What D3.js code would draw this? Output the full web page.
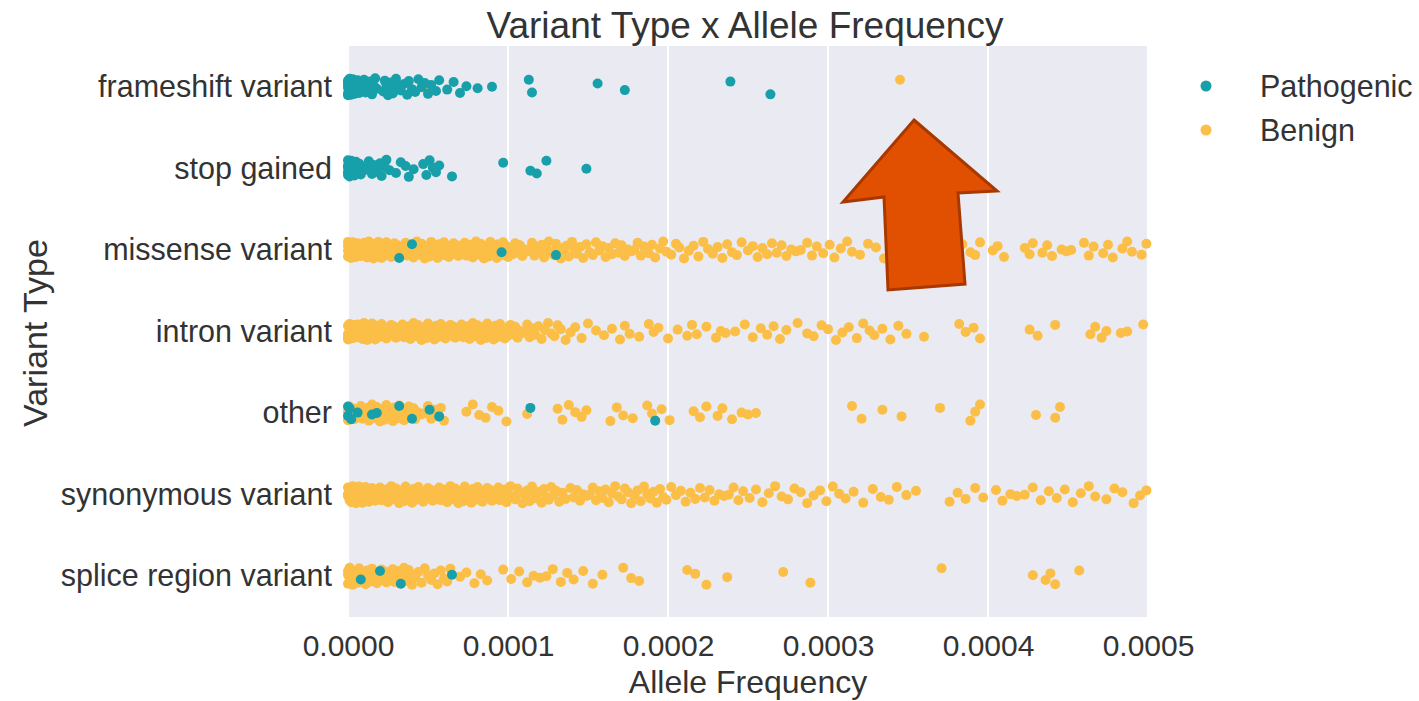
<!DOCTYPE html>
<html>
<head>
<meta charset="utf-8">
<script src="https://cdn.jsdelivr.net/npm/d3@7"></script>
<style>
  body { margin: 0; background: #fff; }
  text { font-family: "Liberation Sans", Arial, sans-serif; fill: #333; }
</style>
</head>
<body>
<svg id="chart" width="1419" height="701"></svg>
<script>
// categories (top to bottom)
var categories = ["frameshift variant", "stop gained", "missense variant", "intron variant",
                  "other", "synonymous variant", "splice region variant"];
var hues = ["Pathogenic", "Benign"];
var xTicks = [0, 0.0001, 0.0002, 0.0003, 0.0004, 0.0005];

// allele frequencies, in units of 1e-6
var frameshiftPath = [0,0,0,0,0,0,1,1,1,1,2,2,2,3,3,3,4,4,5,5,6,6,7,7,8,8,9,10,11,12,13,14,15,16,17,18,22,23,24,25,26,27,28,30,31,33,35,37,38,40,42,44,46,48,50,52,55,57,62,66,70,74,81,90,113,115,156,173,239,264];
var frameshiftBen = [49, 345];

var stopPath = [0,0,0,0,0,1,1,1,2,2,3,3,4,4,5,5,6,7,8,9,11,12,13,15,16,18,20,21,23,24,26,30,33,36,38,41,47,49,51,53,55,57,65,97,114,118,124,149];
var stopBen = [];

var missensePath = [32, 40, 96, 130];
var missenseBen = [0,0,0,0,1,1,1,2,2,2,3,3,4,4,5,5,6,6,7,7,8,8,9,9,10,10,11,11,12,12,13,13,14,14,15,15,16,17,17,18,19,19,20,21,21,22,23,24,24,25,26,27,28,28,29,30,31,32,33,34,35,36,37,38,39,40,41,42,43,44,45,46,47,48,49,50,51,52,53,54,55,56,57,58,59,60,61,62,63,64,65,66,67,68,69,70,71,72,73,74,75,76,77,78,79,80,81,82,83,84,85,86,87,88,89,90,91,92,93,94,95,96,97,98,99,100,
  101.5,103,104.5,106,107.5,109,110.5,112,113.5,115,116.5,118,119.5,121,122.5,124,125.5,127,128.5,130,131.5,133,135,136.5,138,140,141.5,143,145,147,149,151,153,155,157,159,161,163,165,167,169,171,173,175,177,179,181,183,185,188,190,192,195,197,199,202,205,207,210,213,216,219,222,225,228,231,234,237,240,243,246,
  250,253,256,259,262,265,268,271,274,277,280,283,287,290,293,297,301,304,308,312,315,320,325,330,335,340,346,352,358,364,370,376,381,384,389,392,395,403,406,410,423,426,428,434,437,440,446,449,452,460,463,466,472,475,478,484,487,490,496,499];

var intronPath = [];
var intronBen = [0,0,0,0,1,1,1,2,2,2,3,3,4,4,5,5,6,6,7,7,8,8,9,9,10,10,11,11,12,12,13,13,14,15,15,16,17,17,18,19,20,21,22,23,24,25,26,27,28,29,30,31,32,33,34,35,36,37,38,39,40,41,42,43,44,45,46,47,48,49,50,51,52,53,54,55,56,57,58,59,60,61,62,63,64,65,66,67,68,69,70,71,72,73,74,75,76,77,78,79,80,81,82,83,84,85,86,87,88,89,90,91,92,93,94,95,96,97,98,99,100,
  101.5,103,104.5,106,107.5,109,110.5,112,113.5,115,117,119,121,123,125,127,129,131,133,136,139,142,
  146,150,155,160,165,170,173,176,182,188,191,194,200,206,212,215,218,224,230,233,236,242,248,253,258,262,266,270,274,281,287,291,296,300,305,309,313,318,322,326,329,334,339,344,349,360,382,386,391,395,426,431,442,464,467,471,474,483,487,497];

var otherPath = [0,0,1,2,6,15,18,32,40,51,57,114,192];
var otherBen = [0,0,1,1,2,3,4,5,6,7,8,9,10,11,12,13,14,15,16,17,18,19,20,21,22,23,24,25,26,27,28,29,30,31,32,33,34,35,36,37,38,40,41,42,44,46,48,50,52,54,56,58,60,
  74,78,82,86,90,94,99,112,131,134,138,142,146,149,164,168,172,178,187,190,196,201,216,220,224,231,234,240,246,250,255,315,321,334,346,370,389,392,395,430,442,445];

var synPath = [];
var synBen = [0,0,0,0,1,1,1,2,2,2,3,3,4,4,5,5,6,6,7,7,8,8,9,9,10,10,11,11,12,12,13,13,14,15,15,16,17,17,18,19,20,21,22,23,24,25,26,27,28,29,30,31,32,33,34,35,36,37,38,39,40,41,42,43,44,45,46,47,48,49,50,51,52,53,54,55,56,57,58,59,60,61,62,63,64,65,66,67,68,69,70,71,72,73,74,75,76,77,78,79,80,81,82,83,84,85,86,87,88,89,90,91,92,93,94,95,96,97,98,99,100,
  101.5,103,104.5,106,107.5,109,110.5,112,113.5,115,116.5,118,119.5,121,122.5,124,125.5,127,128.5,130,132,
  134,136,139,141,143,145,147,149,151,153,155,157,159,161,163,165,167,169,171,173,175,177,179,181,183,185,187,189,191,193,195,197,199,202,205,208,211,214,217,220,223,226,229,232,235,238,241,244,247,
  251,255,259,263,267,271,275,279,283,287,291,295,299,303,307,311,316,322,328,333,338,343,349,355,376,381,386,392,397,405,409,414,418,423,428,433,438,443,448,453,458,463,467,474,479,484,491,495,499];

var splicePath = [8, 20, 33, 65];
var spliceBen = [0,0,0,1,1,2,2,3,3,4,5,6,7,8,9,10,11,12,13,14,15,16,17,18,19,20,21,22,23,24,25,26,27,28,29,30,31,32,33,34,35,36,37,38,39,40,42,44,46,48,50,52,54,56,58,60,62,64,
  70,74,79,83,87,97,102,107,112,116,120,124,128,133,137,141,147,153,159,172,177,182,212,217,224,237,272,289,371,428,436,439,442,457];

var pathogenic = [frameshiftPath, stopPath, missensePath, intronPath, otherPath, synPath, splicePath];
var benign = [frameshiftBen, stopBen, missenseBen, intronBen, otherBen, synBen, spliceBen];

// fixed jitter order: a shuffle of 37 evenly spaced slots across the strip
var jitterSlots = [18,3,30,11,25,7,34,15,0,22,28,5,13,36,20,9,32,1,16,26,12,35,6,23,29,2,19,10,33,14,27,4,24,8,31,17,21];
function jitter(k) { return (jitterSlots[k % jitterSlots.length] - 18) / 18; }

var colors = { Pathogenic: "#17a0a9", Benign: "#fbbe47" };

var margin = { top: 46, left: 348, right: 271, bottom: 84 };
var W = 1419, H = 701;

var svg = d3.select("#chart");

var x = d3.scaleLinear().domain([0, 0.0005]).range([margin.left, W - margin.right]);
var y = d3.scalePoint().domain(categories).range([margin.top, H - margin.bottom]).padding(0.5);

// plot background
svg.append("rect")
  .attr("x", margin.left).attr("y", margin.top)
  .attr("width", x.range()[1] - x.range()[0])
  .attr("height", H - margin.bottom - margin.top)
  .attr("fill", "#eaeaf2");

// vertical gridlines
svg.append("g").selectAll("line").data(xTicks).enter().append("line")
  .attr("x1", function(d) { return x(d); }).attr("x2", function(d) { return x(d); })
  .attr("y1", margin.top).attr("y2", H - margin.bottom)
  .attr("stroke", "#fff").attr("stroke-width", 2);

// points: benign first, pathogenic on top
var points = [];
categories.forEach(function(cat, ci) {
  benign[ci].forEach(function(v, i) { points.push({ cat: cat, hue: "Benign", v: v, j: jitter(i + ci * 7) }); });
});
categories.forEach(function(cat, ci) {
  pathogenic[ci].forEach(function(v, i) { points.push({ cat: cat, hue: "Pathogenic", v: v, j: jitter(i + ci * 5 + 11) }); });
});

var jitterWidth = 8.5;

svg.append("g").selectAll("circle").data(points).enter().append("circle")
  .attr("cx", function(d) { return x(d.v * 1e-6); })
  .attr("cy", function(d) { return y(d.cat) + d.j * jitterWidth; })
  .attr("r", 5)
  .attr("fill", function(d) { return colors[d.hue]; });

// x axis labels
var xAxis = d3.axisBottom(x).tickValues(xTicks).tickFormat(d3.format(".4f")).tickSize(0).tickPadding(18);
var gx = svg.append("g").attr("transform", "translate(0," + (H - margin.bottom) + ")").call(xAxis);
gx.select(".domain").remove();
gx.selectAll("text").style("font-size", "30px").attr("fill", "#333");

// y axis labels
var yAxis = d3.axisLeft(y).tickSize(0).tickPadding(16);
var gy = svg.append("g").attr("transform", "translate(" + margin.left + ",0)").call(yAxis);
gy.select(".domain").remove();
gy.selectAll("text").style("font-size", "30.5px").attr("fill", "#333");

// title and axis titles
svg.append("text").attr("x", 745).attr("y", 25).attr("text-anchor", "middle")
  .attr("dominant-baseline", "central").style("font-size", "37px").text("Variant Type x Allele Frequency");
svg.append("text").attr("x", x(0.00025)).attr("y", 682).attr("text-anchor", "middle")
  .attr("dominant-baseline", "central").style("font-size", "32px").text("Allele Frequency");
svg.append("text").attr("transform", "translate(35," + y("other") + ") rotate(-90)").attr("x", 80)
  .attr("text-anchor", "middle").attr("dominant-baseline", "central")
  .style("font-size", "34px").text("Variant Type");

// legend
var legend = svg.append("g").attr("transform", "translate(1206,86)");
var li = legend.selectAll("g").data(hues).enter().append("g")
  .attr("transform", function(d, i) { return "translate(0," + (i * 44) + ")"; });
li.append("circle").attr("r", 5.5).attr("fill", function(d) { return colors[d]; });
li.append("text").attr("x", 54).attr("dominant-baseline", "central")
  .style("font-size", "30.5px").text(function(d) { return d; });

// annotation arrow pointing at the benign frameshift outlier
svg.append("path")
  .attr("d", "M914,120 L997,191 L958,193 L965,284 L888,290 L884,197 L843,202 Z")
  .attr("fill", "#e05000").attr("stroke", "#a83800").attr("stroke-width", 3)
  .attr("stroke-linejoin", "miter");
</script>
</body>
</html>
